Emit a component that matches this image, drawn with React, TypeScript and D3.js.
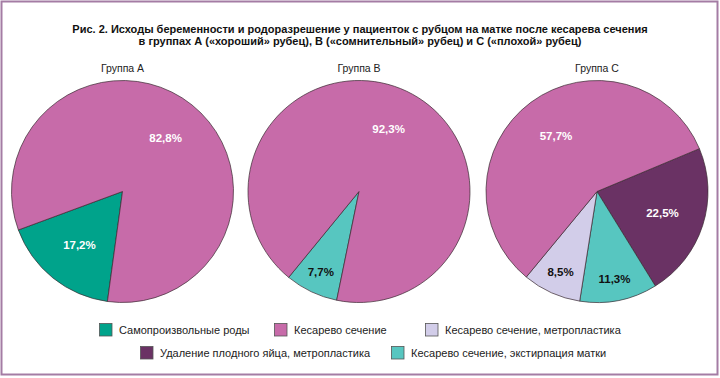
import React from "react";
import * as d3 from "d3";

const titleLines = [
  "Рис. 2. Исходы беременности и родоразрешение у пациенток с рубцом на матке после кесарева сечения",
  "в группах А («хороший» рубец), В («сомнительный» рубец) и С («плохой» рубец)",
];

const categories = [
  "Самопроизвольные роды",
  "Кесарево сечение",
  "Кесарево сечение, метропластика",
  "Удаление плодного яйца, метропластика",
  "Кесарево сечение, экстирпация матки",
];
const colors = ["#00a38b", "#c76ba9", "#d2cde9", "#6a3264", "#57c6c0"];
const labelColors = ["#ffffff", "#ffffff", "#111111", "#ffffff", "#111111"];

const groups = ["Группа А", "Группа В", "Группа С"];
// values per category (same order as categories)
const groupAValues = [17.2, 82.8, 0, 0, 0];
const groupBValues = [0, 92.3, 0, 0, 7.7];
const groupCValues = [0, 57.7, 8.5, 22.5, 11.3];
const groupValues = [groupAValues, groupBValues, groupCValues];
// clockwise slice order and start angle (degrees) per pie
const sliceOrder = [
  [0, 1],
  [4, 1],
  [3, 4, 2, 1],
];
const startAngles = [187.8, 191.6, 67.3];

const W = 720;
const H = 378;
const R = 111;
const centers = [
  { x: 122.5, y: 191.5 },
  { x: 359, y: 191.5 },
  { x: 597, y: 191.5 },
];

const legendRows = [
  [0, 1, 2],
  [3, 4],
];
const legendX = [
  [99, 274, 425],
  [140, 391],
];
const legendY = [323, 346];

const fmt = (v: number) => v.toFixed(1).replace(".", ",") + "%";
const font = "'Liberation Sans', Arial, Helvetica, sans-serif";

export default function App() {
  const arc = d3.arc<d3.PieArcDatum<number>>().innerRadius(0).outerRadius(R);
  return (
    <svg
      width={W}
      height={H}
      style={{ position: "absolute", left: 0, top: 0, background: "#fff" }}
      fontFamily={font}
    >
      <rect x={1.5} y={1.5} width={716} height={373} fill="#fff" stroke="#a47ca4" strokeWidth={2} />
      {titleLines.map((t, i) => (
        <text
          key={i}
          x={W / 2}
          y={33 + i * 12}
          textAnchor="middle"
          fontSize={11}
          fontWeight="bold"
          fill="#111"
        >
          {t}
        </text>
      ))}
      {groups.map((g, gi) => {
        const c = centers[gi];
        const order = sliceOrder[gi];
        const vals = order.map((k) => groupValues[gi][k]);
        const s = (startAngles[gi] * Math.PI) / 180;
        const pie = d3.pie<number>().sort(null).value((d) => d).startAngle(s).endAngle(s + 2 * Math.PI);
        const arcs = pie(vals);
        return (
          <g key={g}>
            <text x={c.x} y={71.5} textAnchor="middle" fontSize={10.5} fill="#222">
              {g}
            </text>
            <g transform={`translate(${c.x},${c.y})`}>
              {arcs.map((a, i) => (
                <path
                  key={i}
                  d={arc(a) || ""}
                  fill={colors[order[i]]}
                  stroke="#3a2a30"
                  strokeWidth={0.7}
                />
              ))}
              {arcs.map((a, i) => {
                const rr = a.data < 15 ? 0.8 * R : 0.62 * R;
                const lab = d3.arc<d3.PieArcDatum<number>>().innerRadius(rr).outerRadius(rr);
                const [lx, ly] = lab.centroid(a);
                return (
                  <text
                    key={"l" + i}
                    x={lx}
                    y={ly}
                    dy="0.35em"
                    textAnchor="middle"
                    fontSize={11.5}
                    fontWeight="bold"
                    fill={labelColors[order[i]]}
                  >
                    {fmt(a.data)}
                  </text>
                );
              })}
            </g>
          </g>
        );
      })}
      {legendRows.map((row, ri) =>
        row.map((k, j) => (
          <g key={`${ri}-${j}`} transform={`translate(${legendX[ri][j]},${legendY[ri]})`}>
            <rect x={0.5} y={0.5} width={12.5} height={12.5} fill={colors[k]} stroke="#555" strokeWidth={0.8} />
            <text x={20} y={10.5} fontSize={11} fill="#222">
              {categories[k]}
            </text>
          </g>
        ))
      )}
    </svg>
  );
}
